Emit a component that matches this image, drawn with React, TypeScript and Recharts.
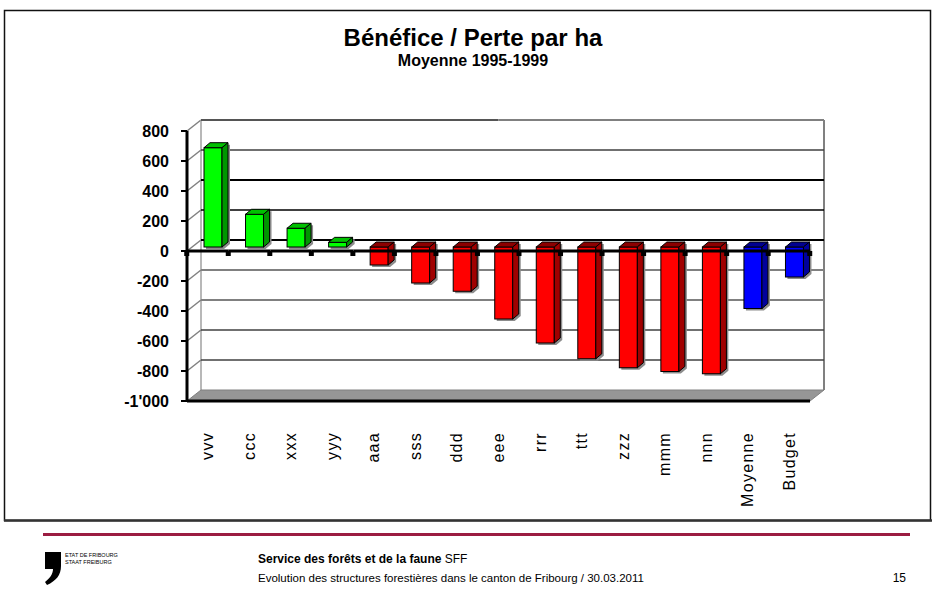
import React from 'react';
import { BarChart, Bar, XAxis, YAxis, CartesianGrid } from 'recharts';

const categories = ['vvv', 'ccc', 'xxx', 'yyy', 'aaa', 'sss', 'ddd', 'eee', 'rrr', 'ttt', 'zzz', 'mmm', 'nnn', 'Moyenne', 'Budget'];
const values = [662, 218, 125, 31, -120, -240, -295, -480, -640, -745, -805, -830, -845, -410, -200];
const groups = ['gain', 'gain', 'gain', 'gain', 'loss', 'loss', 'loss', 'loss', 'loss', 'loss', 'loss', 'loss', 'loss', 'ref', 'ref'];
const yTicks = [800, 600, 400, 200, 0, -200, -400, -600, -800, -1000];

const data = categories.map((name, i) => ({ name, value: values[i], group: groups[i] }));

const FONT = "'Liberation Sans', Arial, sans-serif";

const W = 932;
const H = 594;
const MARGIN = { top: 131, right: 122, bottom: 103, left: 127 };
const Y_AXIS_W = 60;
const PLOT_W = W - MARGIN.left - MARGIN.right - Y_AXIS_W;
const BAND = PLOT_W / categories.length;

// 3d look: depth of the walls and of the bars
const DX = 14;
const DY = -11;
const BX = 5;
const BY = -4;
const BD = 6;
const BDY = -5;

const palette: Record<string, { front: string; top: string; side: string }> = {
  gain: { front: '#00ff00', top: '#00c000', side: '#009600' },
  loss: { front: '#ff0000', top: '#8c0000', side: '#a00000' },
  ref: { front: '#0000ff', top: '#000090', side: '#00009c' },
};

const gridStyle: Record<number, { stroke: string; w: number }> = {
  600: { stroke: '#404040', w: 1.5 },
  400: { stroke: '#000000', w: 2 },
  200: { stroke: '#000000', w: 1.5 },
  0: { stroke: '#000000', w: 2 },
  '-200': { stroke: '#808080', w: 2 },
  '-400': { stroke: '#808080', w: 2 },
  '-600': { stroke: '#404040', w: 1.5 },
  '-800': { stroke: '#404040', w: 1.5 },
};

const fmt = (v: number) => {
  const a = Math.abs(v);
  const s = a >= 1000 ? `${Math.floor(a / 1000)}'${String(a % 1000).padStart(3, '0')}` : String(a);
  return v < 0 ? '-' + s : s;
};

function WallLine(props: any) {
  const { x1, y1, x2 } = props;
  const top = props.y ?? MARGIN.top;
  const h = props.height ?? 270;
  const value = Math.round((800 - ((y1 - top) / h) * 1800) / 200) * 200;
  const slant = <line x1={x1} y1={y1} x2={x1 + DX} y2={y1 + DY} stroke="#808080" strokeWidth={1.5} />;
  if (value <= -1000) {
    return (
      <g key={props.key}>
        <polygon
          points={`${x1},${y1} ${x2},${y1} ${x2 + DX},${y1 + DY} ${x1 + DX},${y1 + DY}`}
          fill="#969696"
          stroke="#808080"
        />
        <line x1={x1} y1={y1} x2={x2} y2={y1} stroke="#000" strokeWidth={3} />
      </g>
    );
  }
  if (value >= 800) {
    const bottom = top + h;
    return (
      <g key={props.key}>
        {slant}
        <line x1={x1 + DX} y1={y1 + DY} x2={x1 + DX} y2={bottom + DY} stroke="#a0a0a0" strokeWidth={1.5} />
        <line x1={x2 + DX} y1={y1 + DY} x2={x2 + DX} y2={bottom + DY} stroke="#808080" strokeWidth={2} />
        <line x1={x1 + DX} y1={y1 + DY} x2={(x1 + x2) / 2} y2={y1 + DY} stroke="#555" strokeWidth={2} />
        <line x1={(x1 + x2) / 2} y1={y1 + DY} x2={x2 + DX} y2={y1 + DY} stroke="#808080" strokeWidth={2} />
      </g>
    );
  }
  const st = gridStyle[value] ?? { stroke: '#404040', w: 1.5 };
  return (
    <g key={props.key}>
      {slant}
      <line x1={x1 + DX} y1={y1 + DY} x2={x2 + DX} y2={y1 + DY} stroke={st.stroke} strokeWidth={st.w} />
    </g>
  );
}

function Bar3D(props: any) {
  const { x, y, width, height, payload, index } = props;
  const c = palette[payload.group];
  let top = y;
  let h = height;
  if (h < 0) {
    top = y + h;
    h = -h;
  }
  const zeroY = payload.value >= 0 ? top + h : top;
  const fx = x + BX;
  const fy = top + BY;
  const w = width;
  const cx = x + width / 2;
  const left = cx - BAND / 2;
  const right = cx + BAND / 2;
  const shadow = `${fx + 2},${fy + 2} ${fx + BD + 2},${fy + BDY + 2} ${fx + w + BD + 2},${fy + BDY + 2} ${fx + w + BD + 2},${fy + h + BDY + 2} ${fx + w + 2},${fy + h + 2} ${fx + 2},${fy + h + 2}`;
  return (
    <g>
      <polygon points={shadow} fill="#8c8c8c" />
      <rect x={fx} y={fy} width={w} height={h} fill={c.front} stroke="#000" strokeWidth={1} />
      <polygon
        points={`${fx},${fy} ${fx + BD},${fy + BDY} ${fx + w + BD},${fy + BDY} ${fx + w},${fy}`}
        fill={c.top}
        stroke="#000"
        strokeWidth={1}
      />
      <polygon
        points={`${fx + w},${fy} ${fx + w + BD},${fy + BDY} ${fx + w + BD},${fy + h + BDY} ${fx + w},${fy + h}`}
        fill={c.side}
        stroke="#000"
        strokeWidth={1}
      />
      <line x1={left} y1={zeroY} x2={right} y2={zeroY} stroke="#000" strokeWidth={3} />
      <rect x={right - 3} y={zeroY} width={5} height={5} fill="#000" />
      {index === 0 && <rect x={left - 3} y={zeroY} width={5} height={5} fill="#000" />}
    </g>
  );
}

function CatTick(props: any) {
  const { x, y, payload } = props;
  return (
    <text
      x={x}
      y={y}
      transform={`rotate(-90, ${x}, ${y})`}
      textAnchor="end"
      dominantBaseline="central"
      fontFamily={FONT}
      fontSize={16}
      letterSpacing={1.3}
      fill="#000"
    >
      {payload.value}
    </text>
  );
}

function Logo() {
  return (
    <path
      d="M45,552 L61,552 L61,566 C61,575 56,581 47,585 L45,582 C50,578 53,574 53,569 L45,569 Z"
      fill="#000"
    />
  );
}

export default function App() {
  return (
    <div style={{ position: 'absolute', left: 0, top: 0, width: W, height: H, background: '#fff' }}>
      <svg width={W} height={H} style={{ position: 'absolute', left: 0, top: 0 }}>
        <rect x={4.5} y={10.5} width={926} height={510} fill="none" stroke="#111" strokeWidth={1.5} />
        <line x1={4} y1={520.5} x2={932} y2={520.5} stroke="#333" strokeWidth={2.5} />
        <text x={473} y={46} textAnchor="middle" fontFamily={FONT} fontWeight={700} fontSize={24} fill="#000">
          Bénéfice / Perte par ha
        </text>
        <text x={473} y={66} textAnchor="middle" fontFamily={FONT} fontWeight={700} fontSize={16} fill="#000">
          Moyenne 1995-1999
        </text>
        <rect x={43} y={533} width={867} height={3} fill="#9b1c41" />
        <Logo />
        <text x={65} y={557} fontFamily={FONT} fontSize={5.5} fill="#000">ETAT DE FRIBOURG</text>
        <text x={65} y={564} fontFamily={FONT} fontSize={5.5} fill="#000">STAAT FREIBURG</text>
        <text x={258} y={563} fontFamily={FONT} fontSize={12} fill="#000">
          <tspan fontWeight={700}>Service des forêts et de la faune</tspan> SFF
        </text>
        <text x={258} y={582} fontFamily={FONT} fontSize={11.5} fill="#000">
          Evolution des structures forestières dans le canton de Fribourg / 30.03.2011
        </text>
        <text x={906} y={582} textAnchor="end" fontFamily={FONT} fontSize={12} fill="#000">15</text>
      </svg>
      <div style={{ position: 'absolute', left: 0, top: 0 }}>
        <BarChart width={W} height={H} data={data} margin={MARGIN} barSize={18}>
          <CartesianGrid vertical={false} horizontal={(p: any) => <WallLine {...p} />} />
          <XAxis
            dataKey="name"
            interval={0}
            axisLine={false}
            tickLine={false}
            tickSize={0}
            tickMargin={31}
            height={90}
            tick={<CatTick />}
          />
          <YAxis
            type="number"
            domain={[-1000, 800]}
            ticks={yTicks}
            interval={0}
            width={Y_AXIS_W}
            tickFormatter={fmt}
            axisLine={{ stroke: '#000', strokeWidth: 3 }}
            tickLine={{ stroke: '#000', strokeWidth: 2 }}
            tickSize={6}
            tickMargin={12}
            tick={{ fill: '#000', fontSize: 16, fontWeight: 700, fontFamily: FONT }}
          />
          <Bar dataKey="value" isAnimationActive={false} shape={<Bar3D />} />
        </BarChart>
      </div>
    </div>
  );
}
